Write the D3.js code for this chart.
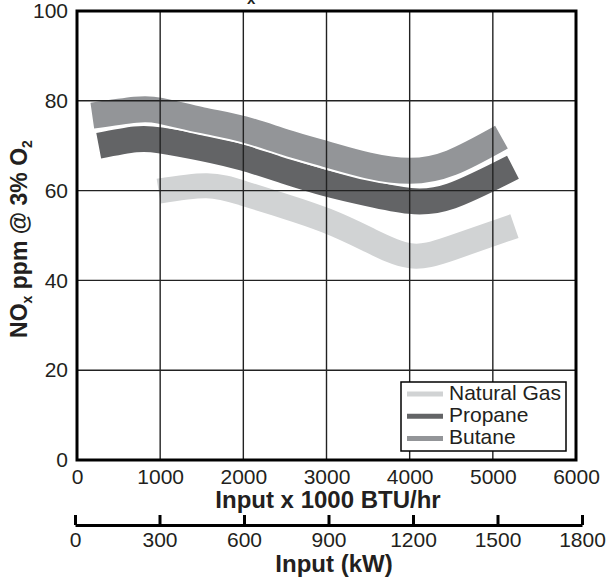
<!DOCTYPE html>
<html>
<head>
<meta charset="utf-8">
<script src="https://cdn.jsdelivr.net/npm/d3@7"></script>
<style>
  body { margin: 0; background: #fff; }
  svg { display: block; }
</style>
</head>
<body>
<div id="vis"></div>
<script>
// fuels, drawn in this order (gas at the back, butane on top)
const fuels = ["Natural Gas", "Propane", "Butane"];
const fuelColors = ["#d1d3d4", "#636466", "#939598"];

// band centre lines: [input x 1000 BTU/hr, NOx ppm]
const naturalGas = [[982, 59.9], [1560, 61.1], [2000, 59.4], [2500, 56.5], [3000, 53.3],
    [3500, 49.1], [4000, 45.5], [4500, 47.2], [5260, 52.1]];
const propane = [[261, 70.0], [700, 71.4], [1000, 71.2], [1500, 69.5], [2000, 67.3],
    [2500, 64.4], [3000, 61.6], [3500, 59.4], [4000, 57.7], [4500, 58.8], [5242, 65.2]];
const butane = [[184, 76.7], [700, 78.0], [1000, 77.8], [1500, 75.7], [2000, 73.7],
    [2500, 70.8], [3000, 68.1], [3500, 65.6], [4000, 64.4], [4500, 66.2], [5104, 71.9]];

const btuTicks = [0, 1000, 2000, 3000, 4000, 5000, 6000];
const kwTicks = [0, 300, 600, 900, 1200, 1500, 1800];
const ppmTicks = [0, 20, 40, 60, 80, 100];

const font = "'Liberation Sans', Arial, Helvetica, sans-serif";
const ink = "#231f20";

const svg = d3.select("#vis").append("svg")
    .attr("width", 608)
    .attr("height", 580)
    .style("font-family", font);

const x = d3.scaleLinear().domain([0, 6000]).range([77, 576]);
const y = d3.scaleLinear().domain([0, 100]).range([460, 11]);
const xKw = d3.scaleLinear().domain([0, 1800]).range([75, 582]);

// title, cut off by the top edge: only the subscript shows
const title = svg.append("text")
    .attr("x", 211)
    .attr("y", -1)
    .style("font-size", "24px")
    .style("font-weight", "bold")
    .attr("fill", ink);
title.append("tspan").text("NO");
title.append("tspan").attr("dy", 5).style("font-size", "15px").text("x");

// bands: thick strokes with a white edge so touching bands stay apart
const line = d3.line()
    .x(d => x(d[0]))
    .y(d => y(d[1]))
    .curve(d3.curveNatural);

const bands = [naturalGas, propane, butane];
const bandWidths = [25, 26, 26];

bands.forEach((d, i) => {
    svg.append("path")
        .attr("d", line(d))
        .attr("fill", "none")
        .attr("stroke", "#fff")
        .attr("stroke-width", bandWidths[i] + 4);
    svg.append("path")
        .attr("d", line(d))
        .attr("fill", "none")
        .attr("stroke", fuelColors[i])
        .attr("stroke-width", bandWidths[i]);
});

// grid on top of the bands
const grid = svg.append("g").attr("stroke", "#222").attr("stroke-width", 1.4);
btuTicks.slice(1, -1).forEach(t => {
    grid.append("line")
        .attr("x1", x(t)).attr("x2", x(t))
        .attr("y1", y(100)).attr("y2", y(0));
});
ppmTicks.slice(1, -1).forEach(t => {
    grid.append("line")
        .attr("x1", x(0)).attr("x2", x(6000))
        .attr("y1", y(t)).attr("y2", y(t));
});

svg.append("rect")
    .attr("x", x(0))
    .attr("y", y(100))
    .attr("width", x(6000) - x(0))
    .attr("height", y(0) - y(100))
    .attr("fill", "none")
    .attr("stroke", "#000")
    .attr("stroke-width", 3);

// tick labels
const xAxis = svg.append("g")
    .attr("transform", "translate(0," + y(0) + ")")
    .call(d3.axisBottom(x).tickValues(btuTicks).tickSize(0).tickPadding(9).tickFormat(d3.format("d")));
const yAxis = svg.append("g")
    .attr("transform", "translate(" + x(0) + ",0)")
    .call(d3.axisLeft(y).tickValues(ppmTicks).tickSize(0).tickPadding(9));
[xAxis, yAxis].forEach(a => {
    a.select(".domain").remove();
    a.selectAll("text")
        .style("font-size", "21px")
        .style("font-family", font)
        .attr("fill", ink);
});

// second scale in kW
const kwAxis = svg.append("g")
    .attr("transform", "translate(0,525)")
    .call(d3.axisBottom(xKw).tickValues(kwTicks).tickSizeInner(-10).tickSizeOuter(0)
        .tickPadding(7).tickFormat(d3.format("d")));
kwAxis.select(".domain").attr("stroke", "#000").attr("stroke-width", 3);
kwAxis.selectAll(".tick line").attr("stroke", "#000").attr("stroke-width", 3);
kwAxis.selectAll("text")
    .style("font-size", "21px")
    .style("font-family", font)
    .attr("fill", ink);

// axis titles
svg.append("text")
    .attr("x", 328)
    .attr("y", 508)
    .attr("text-anchor", "middle")
    .style("font-size", "24px")
    .style("font-weight", "bold")
    .attr("fill", ink)
    .text("Input x 1000 BTU/hr");

svg.append("text")
    .attr("x", 334)
    .attr("y", 572)
    .attr("text-anchor", "middle")
    .style("font-size", "24px")
    .style("font-weight", "bold")
    .attr("fill", ink)
    .text("Input (kW)");

const yTitle = svg.append("text")
    .attr("transform", "translate(27,239) rotate(-90)")
    .attr("text-anchor", "middle")
    .style("font-size", "23px")
    .style("font-weight", "bold")
    .attr("fill", ink);
yTitle.append("tspan").text("NO");
yTitle.append("tspan").attr("dy", 5).style("font-size", "14px").text("x");
yTitle.append("tspan").attr("dy", -5).text(" ppm @ 3% O");
yTitle.append("tspan").attr("dy", 5).style("font-size", "14px").text("2");

// legend
const legend = svg.append("g").attr("transform", "translate(401,382)");
legend.append("rect")
    .attr("width", 165)
    .attr("height", 69)
    .attr("fill", "#fff")
    .attr("stroke", "#000")
    .attr("stroke-width", 1.5);
fuels.forEach((f, i) => {
    const row = legend.append("g").attr("transform", "translate(0," + (12 + i * 22.3) + ")");
    row.append("line")
        .attr("x1", 6).attr("x2", 42)
        .attr("stroke", fuelColors[i])
        .attr("stroke-width", 5);
    row.append("text")
        .attr("x", 48)
        .attr("y", 5.5)
        .style("font-size", "21px")
        .attr("fill", ink)
        .text(f);
});
</script>
</body>
</html>
